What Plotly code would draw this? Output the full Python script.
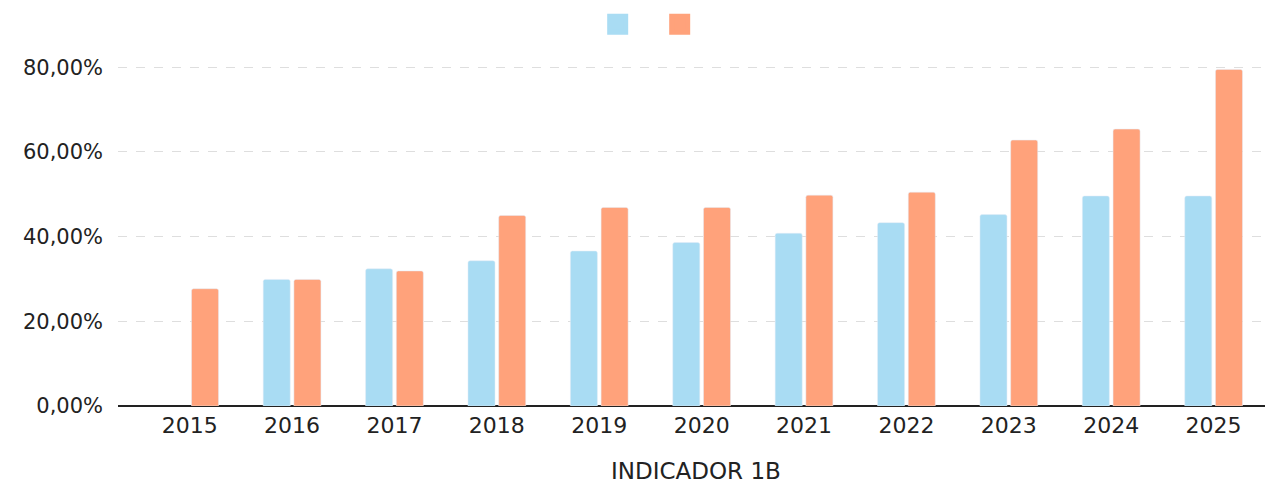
import plotly.graph_objects as go

years = ["2015", "2016", "2017", "2018", "2019", "2020", "2021", "2022", "2023", "2024", "2025"]
serie_azul = [None, 29.9, 32.4, 34.3, 36.6, 38.6, 40.8, 43.3, 45.2, 49.6, 49.6]
serie_naranja = [27.7, 29.9, 31.9, 45.0, 46.9, 46.9, 49.8, 50.5, 62.8, 65.4, 79.5]
y_ticks = [0, 20, 40, 60, 80]
y_tick_labels = ["0,00%", "20,00%", "40,00%", "60,00%", "80,00%"]
x_title = "INDICADOR 1B"

AZUL = "#A9DCF3"
NARANJA = "#FFA27B"
FONT = "DejaVu Sans, Arial, sans-serif"

fig = go.Figure()
fig.add_trace(go.Bar(x=years, y=serie_azul, marker=dict(color=AZUL, cornerradius=2),
                     showlegend=False))
fig.add_trace(go.Bar(x=years, y=serie_naranja, marker=dict(color=NARANJA, cornerradius=2),
                     showlegend=False))
# legend swatches (no text, as in the reference)
for c in (AZUL, NARANJA):
    fig.add_trace(go.Scatter(x=[None], y=[None], mode="markers", name=" ",
                             marker=dict(symbol="square", size=16, color=c,
                                         line=dict(color=c, width=5))))

fig.add_annotation(text=x_title, xref="paper", yref="paper", x=0.5, y=-0.19,
                   xanchor="center", yanchor="middle", showarrow=False,
                   font=dict(size=23, family=FONT, color="#222222"))

fig.update_layout(
    width=1265, height=475,
    margin=dict(l=110, r=0, t=58, b=77, autoexpand=False),
    paper_bgcolor="white", plot_bgcolor="white",
    font=dict(family=FONT, size=21, color="#222222"),
    barmode="group", bargap=0.4, bargroupgap=0.12,
    showlegend=True,
    legend=dict(orientation="h", x=0.469, xanchor="center", xref="paper",
                y=1.123, yanchor="middle", entrywidth=17, itemclick=False,
                font=dict(size=4)),
    xaxis=dict(range=[-0.70, 10.58], showgrid=False, ticks="",
               tickfont=dict(size=22), showline=False, ticklabelstandoff=4),
    yaxis=dict(range=[0, 80.3], tickvals=y_ticks, ticktext=y_tick_labels,
               showgrid=True, gridcolor="#dedede", griddash="dash", gridwidth=1,
               zeroline=True, zerolinecolor="#222222", zerolinewidth=2,
               tickfont=dict(size=21), ticks="", ticklabelstandoff=14),
)

fig.write_html("out.html")
